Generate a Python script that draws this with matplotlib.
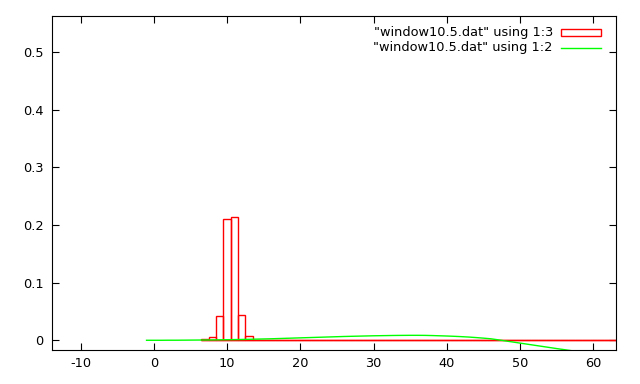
import numpy as np
import matplotlib
matplotlib.use("Agg")
import matplotlib.pyplot as plt

# column 1 / column 3 of window10.5.dat (histogram boxes)
hist_x = list(range(7, 64))
col3 = {7: 0.003, 8: 0.0057, 9: 0.042, 10: 0.210, 11: 0.2135, 12: 0.044, 13: 0.0075}
hist_vals = [col3.get(x, 0.0) for x in hist_x]

# column 2 (smooth curve)
curve_x = list(range(-1, 60))
curve_y = [0.0, 0.0, 0.0, 0.0001, 0.0001, 0.0002, 0.0003, 0.0004, 0.0005, 0.0006,
           0.0008, 0.0010, 0.0012, 0.0014, 0.0017, 0.0020, 0.0023, 0.0026, 0.0030, 0.0034,
           0.0038, 0.0042, 0.0046, 0.0050, 0.0054, 0.0058, 0.0062, 0.0066, 0.0069, 0.0072,
           0.0075, 0.0078, 0.0080, 0.0082, 0.0084, 0.0085, 0.0086, 0.0086, 0.0085, 0.0082,
           0.0078, 0.0074, 0.0069, 0.0063, 0.0056, 0.0047, 0.0037, 0.0026, 0.0008, -0.0011,
           -0.0030, -0.0049, -0.0068, -0.0087, -0.0106, -0.0125, -0.0144, -0.0162, -0.0180,
           -0.0198, -0.0216]

xticks = [-10, 0, 10, 20, 30, 40, 50, 60]
yticks = [0, 0.1, 0.2, 0.3, 0.4, 0.5]
ytick_labels = ["0", "0.1", "0.2", "0.3", "0.4", "0.5"]

label3 = '"window10.5.dat" using 1:3'
label2 = '"window10.5.dat" using 1:2'

plt.rcParams['font.family'] = 'DejaVu Sans'
plt.rcParams['font.size'] = 9.3

fig = plt.figure(figsize=(6.4, 3.84), dpi=100)
ax = fig.add_axes([52.3 / 640, 1 - 350.3 / 384, (616 - 52.3) / 640, (350.3 - 16.3) / 384])

ax.bar(hist_x, hist_vals, width=1.0, fill=False, edgecolor='#ff0000', linewidth=1.0)
# baseline of the boxes, drawn solid
ax.hlines(0, hist_x[0] - 0.5, hist_x[-1] + 0.5, color='#ff0000', linewidth=1.0)
ax.plot(curve_x, curve_y, color='#00ff00', linewidth=1.0)

ax.set_xlim(-13.87, 63.1)
ax.set_ylim(-0.0174, 0.5625)
ax.set_xticks(xticks)
ax.set_xticklabels([str(t) for t in xticks])
ax.set_yticks(yticks)
ax.set_yticklabels(ytick_labels)
ax.tick_params(direction='in', length=5, width=0.8, top=True, right=True)
ax.tick_params(axis='x', pad=5)
ax.tick_params(axis='y', pad=6.5)
for s in ax.spines.values():
    s.set_linewidth(0.8)

# gnuplot style key, top right
ax.text(0.888, 0.952, label3, transform=ax.transAxes, ha='right', va='center')
ax.text(0.888, 0.906, label2, transform=ax.transAxes, ha='right', va='center')
ax.add_patch(plt.Rectangle((0.903, 0.940), 0.070, 0.023, transform=ax.transAxes,
                           fill=False, edgecolor='#ff0000', linewidth=1.0))
ax.plot([0.903, 0.973], [0.905, 0.905], transform=ax.transAxes, color='#00ff00', linewidth=1.0)

fig.savefig('out.png', dpi=100)
